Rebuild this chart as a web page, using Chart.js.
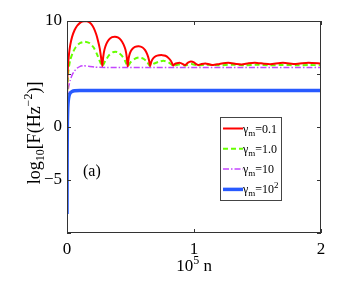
<!DOCTYPE html>
<html>
<head>
<meta charset="utf-8">
<script src="https://cdn.jsdelivr.net/npm/chart.js@4.4.0/dist/chart.umd.min.js"></script>
<style>
  html, body { margin: 0; padding: 0; background: #fff; }
</style>
</head>
<body>
<canvas id="myChart" width="346" height="282"></canvas>
<script>
'use strict';

// values (x in units of 10^5 n, y = log10 F)
let redN = [0, 0.003, 0.008, 0.015, 0.025, 0.04, 0.06, 0.08, 0.10, 0.12, 0.145, 0.17, 0.19, 0.21, 0.23, 0.245, 0.258, 0.268, 0.278,
  0.285, 0.295, 0.31, 0.33, 0.355, 0.378, 0.40, 0.425, 0.445, 0.46, 0.47, 0.478,
  0.485, 0.495, 0.51, 0.535, 0.565, 0.595, 0.615, 0.632, 0.645, 0.654,
  0.665, 0.68, 0.70, 0.725, 0.75, 0.775, 0.80, 0.82, 0.837,
  0.85, 0.865, 0.89, 0.91, 0.93, 0.95, 0.975, 1.0, 1.02, 1.035, 1.06, 1.09, 1.12, 1.15, 1.2, 1.27, 1.33, 1.375, 1.43, 1.48, 1.55, 1.6, 1.7, 1.8, 1.9, 2.0];
let redF = [3.0, 4.6, 5.8, 6.8, 7.7, 8.5, 9.15, 9.55, 9.8, 9.95, 10.0, 9.92, 9.72, 9.35, 8.75, 8.1, 7.4, 6.6, 5.75,
  6.6, 7.3, 7.85, 8.25, 8.47, 8.52, 8.45, 8.2, 7.8, 7.3, 6.65, 5.75,
  6.45, 6.95, 7.3, 7.55, 7.62, 7.5, 7.25, 6.85, 6.35, 5.78,
  6.2, 6.5, 6.68, 6.76, 6.78, 6.72, 6.5, 6.2, 5.8,
  5.95, 6.02, 6.05, 5.95, 5.82, 6.05, 6.18, 6.1, 5.9, 5.85, 5.95, 6.0, 5.92, 5.85, 5.95, 6.05, 5.95, 5.9, 6.02, 6.07, 5.97, 5.92, 6.05, 5.95, 6.07, 6.0];

let greenN = [0, 0.005, 0.012, 0.025, 0.045, 0.07, 0.10, 0.14, 0.18, 0.21, 0.235, 0.255, 0.278,
  0.30, 0.33, 0.36, 0.38, 0.40, 0.43, 0.455, 0.478,
  0.50, 0.53, 0.565, 0.60, 0.63, 0.654,
  0.68, 0.72, 0.76, 0.80, 0.837,
  0.88, 0.93, 0.98, 1.03, 1.1, 1.2, 1.3, 1.4, 1.5, 1.6, 1.7, 1.8, 1.9, 2.0];
let greenF = [2.7, 4.4, 5.4, 6.3, 7.0, 7.55, 7.9, 8.05, 7.9, 7.5, 6.9, 6.3, 5.75,
  6.2, 6.75, 7.05, 7.1, 7.05, 6.75, 6.3, 5.75,
  6.1, 6.4, 6.55, 6.45, 6.15, 5.75,
  5.95, 6.15, 6.25, 6.1, 5.78,
  5.9, 5.8, 5.95, 5.8, 5.88, 5.82, 5.88, 5.83, 5.87, 5.82, 5.86, 5.82, 5.85, 5.82];

let purpleN = [0, 0.005, 0.015, 0.025, 0.04, 0.06, 0.08, 0.10, 0.13, 0.17, 0.22, 0.3, 2.0];
let purpleF = [2.5, 3.2, 3.9, 4.4, 4.9, 5.3, 5.55, 5.7, 5.78, 5.72, 5.65, 5.62, 5.62];

let blueN = [0, 0.001, 0.003, 0.006, 0.01, 0.016, 0.025, 0.04, 0.06, 0.1, 2.0];
let blueF = [-8.2, -3, 0.5, 1.8, 2.5, 2.95, 3.2, 3.35, 3.42, 3.45, 3.45];

let legendValues = ['0.1', '1.0', '10', '10'];
let xTicks = [0, 1, 2];
let yTicks = [-10, -5, 0, 5, 10];
let yLabels = [10, 0, -5];

let serif = '"Liberation Serif", "DejaVu Serif", serif';

function toPoints(xs, ys) {
  let pts = [];
  for (let i = 0; i < xs.length; i++) {
    pts.push({ x: xs[i], y: ys[i] });
  }
  return pts;
}

// draws a row of text pieces (normal / sub / superscript) starting at x
function richText(ctx, parts, x, y, align) {
  let total = 0;
  for (let p of parts) {
    ctx.font = p.size + 'px ' + serif;
    total += ctx.measureText(p.t).width;
  }
  let cx = x;
  if (align === 'center') cx = x - total / 2;
  ctx.textAlign = 'left';
  ctx.textBaseline = 'alphabetic';
  for (let p of parts) {
    ctx.font = p.size + 'px ' + serif;
    ctx.fillText(p.t, cx, y + (p.dy || 0));
    cx += ctx.measureText(p.t).width;
  }
}

const colors = ['rgb(255,0,0)', 'rgb(102,255,0)', 'rgb(196,70,255)', 'rgb(40,90,255)'];
const widths = [2, 2, 1.5, 3.5];
const dashes = [[], [5, 3], [6, 2, 1.5, 2], []];

const decorations = {
  id: 'decorations',
  afterDraw(chart) {
    const ctx = chart.ctx;
    const a = chart.chartArea;
    const xs = chart.scales.x;
    const ys = chart.scales.y;
    ctx.save();

    // box and inward ticks
    ctx.strokeStyle = '#333';
    ctx.lineWidth = 1;
    ctx.setLineDash([]);
    ctx.strokeRect(a.left + 0.5, a.top + 0.5, a.right - a.left - 1, a.bottom - a.top - 1);
    ctx.beginPath();
    for (let v of xTicks) {
      let px = Math.round(xs.getPixelForValue(v)) + 0.5;
      ctx.moveTo(px, a.bottom); ctx.lineTo(px, a.bottom - 4);
      ctx.moveTo(px, a.top); ctx.lineTo(px, a.top + 4);
    }
    for (let v of yTicks) {
      let py = Math.round(ys.getPixelForValue(v)) + 0.5;
      ctx.moveTo(a.left, py); ctx.lineTo(a.left + 4, py);
      ctx.moveTo(a.right, py); ctx.lineTo(a.right - 4, py);
    }
    ctx.stroke();

    ctx.fillStyle = '#000';

    // x title: 10^5 n
    richText(ctx, [
      { t: '10', size: 17 },
      { t: '5', size: 12, dy: -7 },
      { t: ' n', size: 17 }
    ], (a.left + a.right) / 2, 271, 'center');

    // y title: log10[F(Hz^-2)]
    ctx.save();
    ctx.translate(40, 133);
    ctx.rotate(-Math.PI / 2);
    richText(ctx, [
      { t: 'log', size: 18 },
      { t: '10', size: 12, dy: 4 },
      { t: '[F(Hz', size: 18 },
      { t: '\u22122', size: 12, dy: -8 },
      { t: ')]', size: 18 }
    ], 0, 0, 'center');
    ctx.restore();

    // panel label
    richText(ctx, [{ t: '(a)', size: 16 }], 83, 176, 'left');

    // legend
    let lx = 220, ly = 117, lw = 61, lh = 83;
    ctx.fillStyle = '#fff';
    ctx.fillRect(lx, ly, lw, lh);
    ctx.strokeStyle = '#444';
    ctx.lineWidth = 1;
    ctx.strokeRect(lx + 0.5, ly + 0.5, lw, lh);
    for (let i = 0; i < legendValues.length; i++) {
      let iy = 128.5 + i * 20.3;
      ctx.strokeStyle = colors[i];
      ctx.lineWidth = widths[i];
      ctx.setLineDash(dashes[i]);
      ctx.beginPath();
      ctx.moveTo(lx + 3, iy);
      ctx.lineTo(lx + 23, iy);
      ctx.stroke();
      ctx.setLineDash([]);
      ctx.fillStyle = '#000';
      let parts = [
        { t: '\u03b3', size: 12, dy: 4 },
        { t: 'm', size: 9, dy: 7 },
        { t: '=' + legendValues[i], size: 12, dy: 4 }
      ];
      if (i === 3) parts.push({ t: '2', size: 9, dy: -1 });
      richText(ctx, parts, lx + 23, iy, 'left');
    }
    ctx.restore();
  }
};

const data = {
  datasets: [
    { label: 'red', data: toPoints(redN, redF) },
    { label: 'green', data: toPoints(greenN, greenF) },
    { label: 'purple', data: toPoints(purpleN, purpleF) },
    { label: 'blue', data: toPoints(blueN, blueF) }
  ]
};
data.datasets.forEach(function (ds, i) {
  ds.borderColor = colors[i];
  ds.borderWidth = widths[i];
  ds.borderDash = dashes[i];
  ds.pointRadius = 0;
  ds.fill = false;
  ds.tension = 0.2;
});

const config = {
  type: 'line',
  data: data,
  options: {
    responsive: false,
    animation: false,
    devicePixelRatio: 1,
    layout: { padding: { top: 21, right: 25, left: 0, bottom: 0 } },
    plugins: {
      legend: { display: false },
      tooltip: { enabled: false }
    },
    scales: {
      x: {
        type: 'linear',
        min: 0,
        max: 2,
        afterBuildTicks: function (scale) {
          scale.ticks = xTicks.map(v => ({ value: v }));
        },
        afterFit: function (scale) { scale.height = 49; },
        grid: { display: false, drawTicks: false },
        border: { display: false },
        ticks: {
          padding: 6,
          color: '#000',
          font: { family: serif, size: 17 },
          maxRotation: 0
        }
      },
      y: {
        min: -10,
        max: 10,
        afterBuildTicks: function (scale) {
          scale.ticks = yTicks.map(v => ({ value: v }));
        },
        afterFit: function (scale) { scale.width = 67; },
        grid: { display: false, drawTicks: false },
        border: { display: false },
        ticks: {
          padding: 5,
          color: '#000',
          font: { family: serif, size: 17 },
          callback: function (value) {
            if (!yLabels.includes(value)) return '';
            return value < 0 ? '\u2212' + Math.abs(value) : String(value);
          }
        }
      }
    }
  },
  plugins: [decorations]
};

const myChart = new Chart(document.getElementById('myChart'), config);
</script>
</body>
</html>
